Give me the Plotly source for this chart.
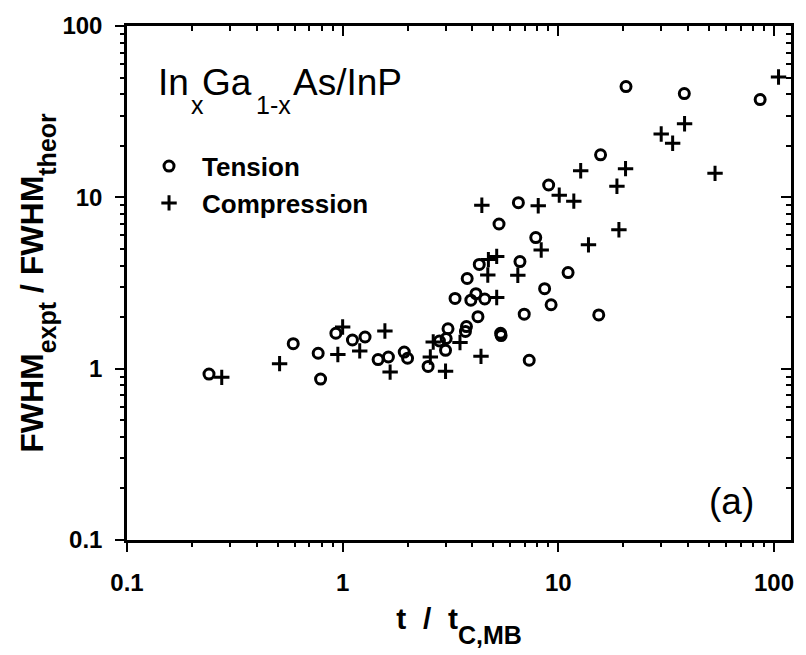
import plotly.graph_objects as go

# ---- data ----
tension_x = [0.24, 0.59, 0.77, 0.79, 0.93, 1.11, 1.27, 1.46, 1.63, 1.93, 2.0, 2.49,
             2.81, 3.02, 3.0, 3.08, 3.75, 3.71, 4.24, 3.32, 3.78, 3.93, 4.15, 4.56,
             4.30, 6.64, 5.40, 5.43, 6.95, 7.33, 8.64, 9.26, 11.1, 15.4, 5.31, 6.53,
             7.86, 9.02, 15.7, 20.6, 38.4, 86.3]
tension_y = [0.93, 1.40, 1.23, 0.87, 1.61, 1.47, 1.53, 1.13, 1.17, 1.25, 1.15, 1.03,
             1.45, 1.50, 1.28, 1.71, 1.76, 1.65, 2.01, 2.57, 3.36, 2.51, 2.74, 2.55,
             4.06, 4.22, 1.61, 1.56, 2.08, 1.12, 2.93, 2.36, 3.64, 2.06, 6.99, 9.31,
             5.82, 11.8, 17.7, 44.3, 40.3, 37.2]

compression_x = [0.275, 0.51, 1.0, 0.95, 1.20, 1.57, 1.66, 2.55, 3.0, 2.63, 3.50, 4.38,
                 5.18, 4.71, 6.49, 4.74, 5.18, 4.42, 8.07, 8.33, 10.1, 11.8, 12.7, 18.7,
                 20.5, 13.8, 19.1, 30.0, 33.9, 38.5, 53.3, 105]
compression_y = [0.89, 1.07, 1.75, 1.21, 1.27, 1.66, 0.955, 1.17, 0.965, 1.43, 1.42, 1.18,
                 2.60, 3.52, 3.51, 4.33, 4.52, 8.99, 8.93, 4.93, 10.3, 9.5, 14.3, 11.6,
                 14.7, 5.28, 6.47, 23.4, 20.7, 26.9, 13.8, 50.4]

x_tickvals = [0.1, 1, 10, 100]
x_ticktext = ["0.1", "1", "10", "100"]
y_tickvals = [0.1, 1, 10, 100]
y_ticktext = ["0.1", "1", "10", "100"]

FONT = "Liberation Sans, Arial, Helvetica, sans-serif"
minor_vals = [m * 10 ** e for e in (-1, 0, 1, 2) for m in range(2, 10)]

fig = go.Figure()
fig.add_trace(go.Scatter(
    x=tension_x, y=tension_y, mode="markers", name="Tension",
    marker=dict(symbol="circle-open", size=10, color="black",
                line=dict(width=3, color="black"))))
fig.add_trace(go.Scatter(
    x=compression_x, y=compression_y, mode="markers", name="Compression",
    marker=dict(symbol="cross-thin-open", size=11, color="black",
                line=dict(width=3, color="black"))))
# invisible copy on the overlay axes so that the top / right frame axes get drawn
fig.add_trace(go.Scatter(
    x=tension_x, y=tension_y, xaxis="x2", yaxis="y2", mode="markers",
    marker=dict(opacity=0), showlegend=False, hoverinfo="skip"))

tickfont = dict(family=FONT, size=24, color="black", weight="bold")
xrange = [-1, 2.079]
yrange = [-1, 2]

common = dict(type="log", showgrid=False, zeroline=False, showline=True,
              linewidth=2.5, linecolor="black", tickcolor="black", tickwidth=2)
minor_out = dict(tickvals=minor_vals, ticks="outside", ticklen=4, tickwidth=1.5,
                 tickcolor="black")
minor_in = dict(tickvals=minor_vals, ticks="inside", ticklen=5, tickwidth=1.5,
                tickcolor="black")

# title pieces: (text, left pixel, font size, baseline pixel)
L, T, H = 127, 14, 526


def px_to_paper_y(py):
    return 1 - (py - T) / H


title_parts = [
    ("In", 155.5, 37, 85),
    ("x", 189, 25, 103),
    ("Ga", 200, 37, 85),
    ("1-x", 254, 25, 103),
    ("As/InP", 291, 37, 85),
]
annotations = []
for txt, left, size, base in title_parts:
    annotations.append(dict(
        text=txt, xref="paper", yref="paper", x=0, xshift=left - L,
        y=px_to_paper_y(base - 0.3465 * size), xanchor="left", yanchor="middle",
        showarrow=False, font=dict(family=FONT, size=size, color="black")))
annotations.append(dict(
    text="(a)", xref="paper", yref="paper", x=0.910, y=0.074,
    xanchor="center", yanchor="middle", showarrow=False,
    font=dict(family=FONT, size=37, color="black")))

xtitle = ("t\u00a0\u00a0/\u00a0\u00a0t<sub><span style=\"font-size:25px;"
          "baseline-shift:-9px\">C,MB</span></sub>")
ytitle = ("FWHM<sub><span style=\"font-size:25px;baseline-shift:-7px\">expt</span></sub>"
          " / FWHM<sub><span style=\"font-size:25px;baseline-shift:-7px\">theor</span></sub>")

fig.update_layout(
    width=806, height=655,
    margin=dict(l=127, r=15, t=14, b=115),
    paper_bgcolor="white", plot_bgcolor="white",
    font=dict(family=FONT, color="black"),
    xaxis=dict(**common, range=xrange, tickmode="array", tickvals=x_tickvals,
               ticktext=x_ticktext, ticks="outside", ticklen=9, tickfont=tickfont,
               ticklabelstandoff=10, minor=minor_out,
               title=dict(text=xtitle,
                          font=dict(family=FONT, size=30, color="black", weight="bold"),
                          standoff=14)),
    yaxis=dict(**common, range=yrange, tickmode="array", tickvals=y_tickvals,
               ticktext=y_ticktext, ticks="outside", ticklen=9, tickfont=tickfont,
               ticklabelstandoff=8, minor=minor_out,
               title=dict(text=ytitle,
                          font=dict(family=FONT, size=32, color="black", weight="bold"),
                          standoff=10)),
    xaxis2=dict(**common, range=xrange, overlaying="x", side="top", anchor="y2",
                tickmode="array", tickvals=x_tickvals, ticks="inside", ticklen=10,
                showticklabels=False, minor=minor_in),
    yaxis2=dict(**common, range=yrange, overlaying="y", side="right", anchor="x2",
                tickmode="array", tickvals=y_tickvals, ticks="inside", ticklen=10,
                showticklabels=False, minor=minor_in),
    showlegend=True,
    legend=dict(x=0.0136, y=0.773, xanchor="left", yanchor="top",
                bgcolor="rgba(0,0,0,0)", borderwidth=0, itemwidth=56,
                font=dict(family=FONT, size=26, color="black", weight="bold")),
    annotations=annotations,
)

fig.write_html("out.html")
